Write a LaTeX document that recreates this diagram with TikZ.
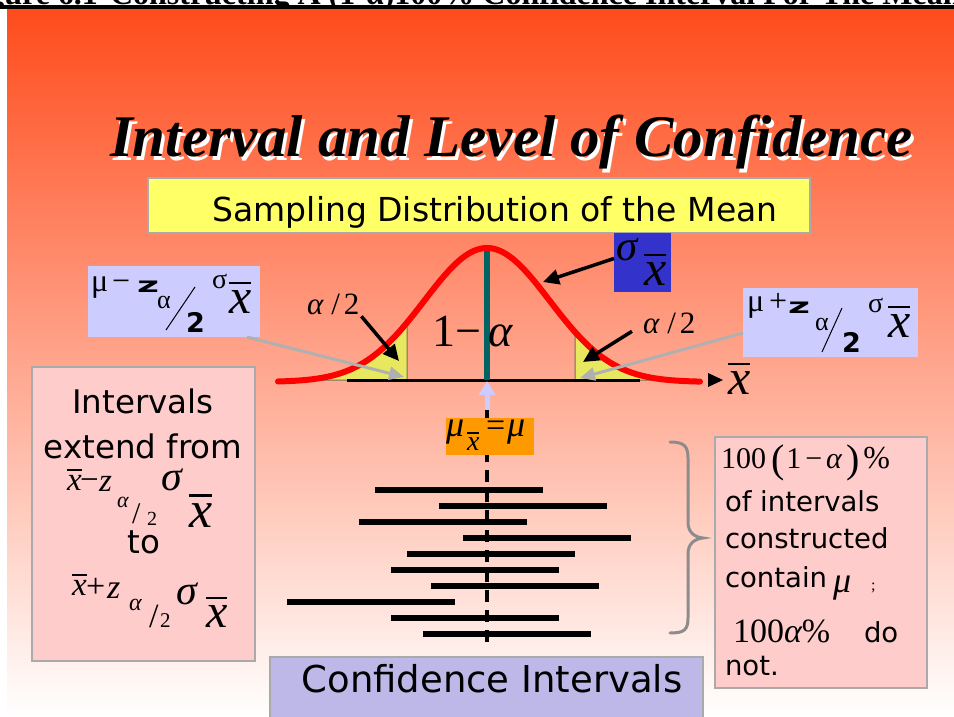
\documentclass[tikz,border=0pt]{standalone}
\usepackage{fontspec}
\setmainfont{DejaVu Sans}
\newfontfamily\tms{Liberation Serif}
\newfontfamily\dvb{DejaVu Sans Bold}
\usetikzlibrary{arrows.meta}
\newcommand\fz[1]{\fontsize{#1}{#1}\selectfont}
\newcommand\xb{\leavevmode\vbox{\hrule height 0.05em\kern0.12em\hbox{\tms\itshape x}}}
\definecolor{bgtop}{RGB}{255,76,28}
\definecolor{ybox}{RGB}{255,255,102}
\definecolor{tailyellow}{RGB}{232,232,96}
\definecolor{tailedge}{RGB}{110,110,90}
\definecolor{tealc}{RGB}{0,100,100}
\definecolor{bluec}{RGB}{51,51,204}
\definecolor{lavc}{RGB}{204,204,255}
\definecolor{pinkc}{RGB}{255,204,204}
\definecolor{orangec}{RGB}{255,153,0}
\definecolor{botlav}{RGB}{190,184,232}
\definecolor{arrowgray}{RGB}{176,176,176}
\definecolor{bracegray}{RGB}{140,140,140}
\definecolor{boxgray}{RGB}{170,170,170}
\begin{document}
\begin{tikzpicture}[x=1pt,y=-1pt,
  every node/.style={inner sep=0pt,outer sep=0pt},
  piece/.style={anchor=base west},
  cpiece/.style={anchor=base},
  boxnode/.style={anchor=north west,draw=boxgray,line width=1.5pt},
  plainbox/.style={anchor=north west},
  blackarrow/.style={line width=3.5pt,-{Triangle[length=16pt,width=15pt]}},
  grayarrow/.style={draw=arrowgray,line width=3pt,-{Triangle[length=15pt,width=13pt]}},
  lavarrow/.style={draw=lavc,line width=5pt,-{Triangle[length=14pt,width=16pt]}},
  barline/.style={line width=6pt},
  declare function={bell(\t)=382-134*exp(-0.5*((\t-487)/62.7)^2);}]
\useasboundingbox (0,0) rectangle (954,717);
\fill[white] (0,0) rectangle (954,717);
\shade[top color=bgtop,bottom color=white] (7,10) rectangle (954,717);
% header
\begin{scope}
\clip (0,0) rectangle (954,5.5);
\node[anchor=base east,font=\tms\bfseries\fz{32}] (fignum) at (98,5) {Figure 6.1};
\node[piece,font=\tms\bfseries\fz{32}] (figcap) at (110,5) {Constructing A (1-α)100\% Confidence Interval For The Mean};
\end{scope}
\fill[black] (0,5.5) rectangle (954,9);
% title
\node[piece,font=\tms\bfseries\itshape\fz{59},text=white] (titleshadow) at (113,160) {Interval and Level of Confidence};
\node[piece,font=\tms\bfseries\itshape\fz{59}] (title) at (110,157) {Interval and Level of Confidence};
% yellow box
\node[boxnode,fill=ybox,minimum width=662,minimum height=55] (sampbox) at (148,178) {};
\node[cpiece,font=\fz{33}] (samptext) at (495,221) {Sampling Distribution of the Mean};
% tails
\filldraw[fill=tailyellow,draw=tailedge,line width=1pt] (317,380) -- plot[domain=317:407,samples=40] (\x,{bell(\x)}) -- (407,380) -- cycle;
\filldraw[fill=tailyellow,draw=tailedge,line width=1pt] (575,380) -- plot[domain=575:670,samples=40] (\x,{bell(\x)}) -- (670,380) -- cycle;
% axis
\draw[line width=3pt] (347,380) -- (640,380);
\fill[black] (708,373) -- (723,380) -- (708,387) -- cycle;
\node[piece,font=\tms\fz{50}] (xaxis) at (728,394) {\xb};
% centre line and curve
\draw[tealc,line width=6pt] (487,251) -- (487,380);
\draw[red,line width=6pt,line cap=round] plot[domain=278:700,samples=120] (\x,{bell(\x)});
% labels on curve
\node[piece,font=\tms\fz{46}] (onema) at (432,346) {1−\kern8pt{\itshape α}};
\node[piece,font=\tms\fz{31}] (alphaL) at (307,314) {{\itshape α}\kern8pt/\kern4pt2};
\node[piece,font=\tms\fz{31}] (alphaR) at (643,333) {{\itshape α}\kern8pt/\kern4pt2};
\coordinate (tailL) at (399,361);
\coordinate (tailR) at (583,362);
\draw[blackarrow] ([xshift=2pt,yshift=-2pt]alphaL.south east) -- (tailL);
\draw[blackarrow] ([xshift=-11pt,yshift=2pt]alphaR.south west) -- (tailR);
% sigma box
\node[plainbox,fill=bluec,minimum width=57,minimum height=59] (sigbox) at (614,233) {};
\node[piece,font=\tms\itshape\fz{43}] (sigs) at (616,260) {σ};
\node[piece,font=\tms\fz{50}] (sigx) at (644,285) {\xb};
\coordinate (curvept) at (543,282);
\draw[blackarrow] ([yshift=4pt]sigbox.west) -- (curvept);
% left lavender box
\node[plainbox,fill=lavc,minimum width=172,minimum height=71] (lbox) at (88,266) {};
\node[piece,font=\tms\fz{32}] (lbmu) at (91,291) {μ};
\node[piece,font=\tms\fz{32}] (lbop) at (112,291) {−};
\node[piece,font=\dvb\fz{21}] (lbz) at (137,292) {\scalebox{1.8}[1]{z}};
\node[piece,font=\tms\fz{26}] (lbal) at (157,308) {α};
\draw[line width=1pt] (166,330) -- (195,287);
\node[piece,font=\dvb\fz{27}] (lbtwo) at (186,332) {2};
\node[piece,font=\tms\fz{28}] (lbsig) at (212,288) {σ};
\node[piece,font=\tms\fz{50}] (lbx) at (229,313) {\xb};
% right lavender box
\node[plainbox,fill=lavc,minimum width=175,minimum height=69] (rbox) at (743,288) {};
\node[piece,font=\tms\fz{32}] (rbmu) at (747,311) {μ};
\node[piece,font=\tms\fz{32}] (rbop) at (769,311) {+};
\node[piece,font=\dvb\fz{21}] (rbz) at (788,313) {\scalebox{1.8}[1]{z}};
\node[piece,font=\tms\fz{26}] (rbal) at (815,330) {α};
\draw[line width=1pt] (822,352) -- (842,308);
\node[piece,font=\dvb\fz{27}] (rbtwo) at (842,352) {2};
\node[piece,font=\tms\fz{28}] (rbsig) at (868,312) {σ};
\node[piece,font=\tms\fz{50}] (rbx) at (888,337) {\xb};
% gray arrows
\coordinate (axL) at (404,377);
\coordinate (axR) at (580,378);
\draw[grayarrow] ([xshift=-13pt]lbox.south east) -- (axL);
\draw[grayarrow] ([yshift=-10.5pt]rbox.west) -- (axR);
% dashed line and mean box
\draw[line width=4pt,dash pattern=on 12pt off 8pt] (487,410) -- (487,642);
\coordinate (mutop) at (487,410);
\coordinate (axmid) at (487,381);
\draw[lavarrow] (mutop) -- (axmid);
\node[plainbox,fill=orangec,minimum width=88,minimum height=37] (mubox) at (446,418) {};
\node[piece,font=\tms\itshape\fz{36}] (mumu) at (446,436) {μ};
\node[piece,font=\tms\fz{28}] (mux) at (467,450) {\xb};
\node[piece,font=\tms\fz{34}] (mueq) at (486,436) {=};
\node[piece,font=\tms\itshape\fz{36}] (mumu2) at (507,436) {μ};
% intervals
\foreach \a/\y in {375/490,439/506,359/522,463/538,407/554,391/570,431/586,287/602,391/618,423/634}
  \draw[barline] (\a,\y) -- ({\a+168},\y);
% brace
\draw[bracegray,line width=3pt,line cap=round] (670,442) .. controls (684,442) and (688,446) .. (688,458) -- (688,522) .. controls (688,532) and (694,537) .. (703,538) .. controls (694,539) and (688,544) .. (688,554) -- (688,618) .. controls (688,630) and (684,633) .. (670,633);
% left pink box
\node[boxnode,fill=pinkc,minimum width=223,minimum height=294] (lpink) at (32,367) {};
\node[cpiece,font=\fz{32.5}] (lp1) at (143,413) {Intervals};
\node[cpiece,font=\fz{32.5}] (lp2) at (143,458) {extend from};
\node[piece,font=\tms\fz{33}] (l1x) at (67,490) {\xb};
\node[piece,font=\tms\fz{33}] (l1m) at (80,490) {−};
\node[piece,font=\tms\itshape\fz{33}] (l1z) at (99,491) {z};
\node[piece,font=\tms\itshape\fz{22}] (l1a) at (117,507) {α};
\node[piece,font=\tms\fz{30}] (l1s) at (132,523) {/};
\node[piece,font=\tms\fz{20}] (l1t) at (147,525) {2};
\node[piece,font=\tms\itshape\fz{42}] (l1g) at (161,490) {σ};
\node[piece,font=\tms\fz{52}] (l1y) at (189,527) {\xb};
\node[cpiece,font=\fz{32.5}] (lp3) at (144,553) {to};
\node[piece,font=\tms\fz{33}] (l2x) at (72,595) {\xb};
\node[piece,font=\tms\fz{34}] (l2p) at (86,597) {+};
\node[piece,font=\tms\itshape\fz{34}] (l2z) at (107,598) {z};
\node[piece,font=\tms\itshape\fz{24}] (l2a) at (129,610) {α};
\node[piece,font=\tms\fz{34}] (l2s) at (149,627) {/};
\node[piece,font=\tms\fz{21}] (l2t) at (160,627) {2};
\node[piece,font=\tms\itshape\fz{42}] (l2g) at (176,604) {σ};
\node[piece,font=\tms\fz{48}] (l2y) at (206,627) {\xb};
% right pink box
\node[boxnode,fill=pinkc,minimum width=212,minimum height=251] (rpink) at (715,437) {};
\node[piece,font=\tms\fz{30}] (r1) at (721,468) {100\kern5pt{\fz{40}\raisebox{-4pt}{(}}\kern2pt1\kern4pt−\kern4pt{\itshape α}\kern5pt{\fz{40}\raisebox{-4pt}{)}}\kern3pt{\fz{32}\%}};
\node[piece,font=\fz{27.5}] (r2) at (725,511) {of intervals};
\node[piece,font=\fz{27.5}] (r3) at (725,548) {constructed};
\node[piece,font=\fz{27.5}] (r4) at (725,587) {contain};
\node[piece,font=\tms\itshape\fz{36}] (r4mu) at (833,592) {μ};
\node[piece,font=\tms\fz{16}] (r4semi) at (871,590) {;};
\node[piece,font=\tms\fz{34}] (r5) at (733,642) {100{\itshape α}\%};
\node[piece,font=\fz{27.5}] (r5do) at (864,642) {do};
\node[piece,font=\fz{27.5}] (r6) at (725,675) {not.};
% bottom box
\node[boxnode,fill=botlav,minimum width=433,minimum height=66] (cibox) at (270,657) {};
\node[cpiece,font=\fz{37}] (citext) at (492,692) {Confidence Intervals};
\end{tikzpicture}
\end{document}
